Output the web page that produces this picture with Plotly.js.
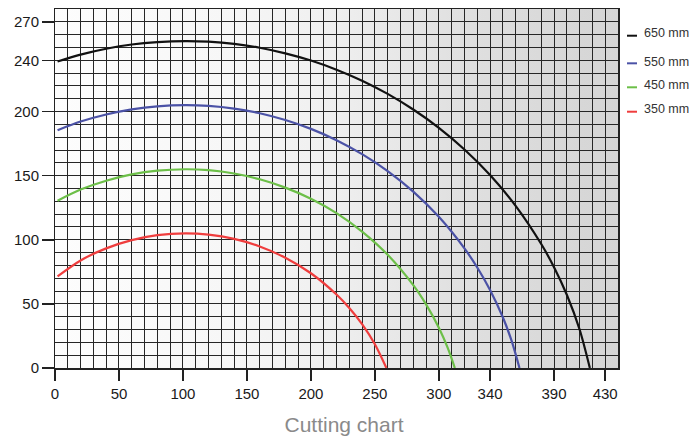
<!DOCTYPE html>
<html><head><meta charset="utf-8">
<script src="https://cdn.plot.ly/plotly-3.0.1.min.js"></script>
<style>html,body{margin:0;padding:0;background:#fff;}#chart{width:689px;height:438px;}</style>
</head><body><div id="chart"></div>
<script>
// ---- data ----
const seriesNames = ['650 mm', '550 mm', '450 mm', '350 mm'];

const x650 = [2, 20, 40, 60, 80, 102, 120, 140, 160, 180, 200, 220, 240, 260, 280, 300, 320, 340, 360, 380, 390, 400, 410, 418];
const y650 = [239, 244.4, 249, 252.3, 254.2, 255, 254.5, 252.8, 249.8, 245.4, 239.8, 232.7, 224.1, 213.8, 201.6, 187.3, 170.4, 150.5, 126.5, 96.7, 78.6, 57.1, 30, 0];

const x550 = [2, 20, 40, 60, 80, 102, 120, 140, 160, 180, 200, 220, 240, 260, 280, 300, 320, 330, 340, 350, 357, 363];
const y550 = [185.5, 192.2, 197.7, 201.7, 204.1, 205, 204.4, 202.3, 198.7, 193.4, 186.5, 177.7, 166.8, 153.6, 137.6, 117.9, 93.3, 78.4, 60.9, 39.6, 20.8, 0];

const x450 = [2, 20, 40, 60, 80, 102, 120, 140, 160, 180, 200, 220, 240, 260, 280, 290, 300, 307, 312.5];
const y450 = [130.5, 139.2, 146.1, 151, 153.9, 155, 154.3, 151.7, 147.2, 140.7, 132, 120.8, 106.4, 88.3, 64.6, 49.6, 31.4, 15.5, 0];

const x350 = [2, 20, 40, 60, 80, 102, 120, 140, 160, 180, 200, 220, 230, 240, 250, 259];
const y350 = [71.5, 83.9, 93.3, 99.7, 103.6, 105, 104, 100.7, 94.8, 86, 73.9, 57.3, 46.8, 34.2, 18.5, 0];

const xTickVals = [0, 50, 100, 150, 200, 250, 300, 340, 390, 430];
const yTickVals = [0, 50, 100, 150, 200, 240, 270];
const chartTitle = 'Cutting chart';

// ---- styles ----
const colors = ['#111111', '#4b52a6', '#6cbf48', '#ef3d3d'];
const seriesX = [x650, x550, x450, x350];
const seriesY = [y650, y550, y450, y350];
const FONT = 'Liberation Sans, Arial, Helvetica, sans-serif';

const traces = seriesNames.map((n, i) => ({
  type: 'scatter', mode: 'lines', name: n,
  x: seriesX[i], y: seriesY[i],
  line: {color: colors[i], width: 2.2, shape: 'spline', smoothing: 0.8},
  hoverinfo: 'skip', showlegend: false
}));
traces.push({type: 'scatter', x: [], y: [], xaxis: 'x2', yaxis: 'y2', showlegend: false, hoverinfo: 'skip'});

// background gradient
const svg = "<svg xmlns='http://www.w3.org/2000/svg' width='563' height='359' preserveAspectRatio='none' viewBox='0 0 563 359'>" +
  "<defs><linearGradient id='g' x1='0' y1='0' x2='1' y2='0'>" +
  "<stop offset='0' stop-color='#fdfdfd'/><stop offset='0.3' stop-color='#f7f7f7'/>" +
  "<stop offset='0.5' stop-color='#efefef'/><stop offset='0.72' stop-color='#e0e0e0'/>" +
  "<stop offset='0.93' stop-color='#d7d7d7'/><stop offset='1' stop-color='#d5d5d5'/>" +
  "</linearGradient></defs><rect x='0' y='0' width='563' height='359' fill='url(#g)'/></svg>";
const bgSrc = 'data:image/svg+xml;base64,' + btoa(svg);

// legend (manual, to match the short line symbols)
const legTextY = [0.932, 0.853, 0.788, 0.721];
const legLineY = [0.9256, 0.8487, 0.7819, 0.7139];
const annotations = seriesNames.map((n, i) => ({
  xref: 'paper', yref: 'paper', x: 1.0425, y: legTextY[i], xanchor: 'left', yanchor: 'middle',
  text: n, showarrow: false, font: {family: FONT, size: 12.5, color: '#333'}
}));
const shapes = seriesNames.map((n, i) => ({
  type: 'line', xref: 'paper', yref: 'paper', x0: 1.016, x1: 1.0338, y0: legLineY[i], y1: legLineY[i],
  line: {color: colors[i], width: 2}
}));

const gridAxis = (range) => ({
  range: range, tickmode: 'linear', tick0: 0, dtick: 10,
  showgrid: true, gridcolor: '#262626', gridwidth: 1,
  showticklabels: false, ticks: '', zeroline: false,
  showline: true, mirror: true, linecolor: '#222', linewidth: 1.5, fixedrange: true
});
const labelAxis = (range, vals) => ({
  range: range, tickmode: 'array', tickvals: vals, ticktext: vals.map(String),
  ticks: 'outside', ticklen: 12, tickwidth: 1.5, tickcolor: '#222',
  showgrid: false, zeroline: false, showline: false, fixedrange: true,
  tickfont: {family: FONT, size: 15, color: '#1a1a1a'}
});

const layout = {
  width: 689, height: 438,
  margin: {l: 55, r: 71, t: 9, b: 70, pad: 0},
  paper_bgcolor: '#ffffff', plot_bgcolor: 'rgba(0,0,0,0)',
  xaxis: gridAxis([0, 440]),
  yaxis: gridAxis([0, 280]),
  xaxis2: Object.assign(labelAxis([0, 440], xTickVals), {overlaying: 'x', anchor: 'y2', side: 'bottom'}),
  yaxis2: Object.assign(labelAxis([0, 280], yTickVals), {overlaying: 'y', anchor: 'x2', side: 'left'}),
  title: {text: chartTitle, font: {family: FONT, size: 21, color: '#8a8a8a'},
          x: 0.4993, xref: 'container', xanchor: 'center', y: 0.03, yref: 'container', yanchor: 'middle'},
  images: [{source: bgSrc, xref: 'paper', yref: 'paper', x: 0, y: 1, sizex: 1, sizey: 1,
            xanchor: 'left', yanchor: 'top', sizing: 'stretch', layer: 'below'}],
  annotations: annotations, shapes: shapes, showlegend: false
};

Plotly.newPlot('chart', traces, layout, {displayModeBar: false, staticPlot: true});
</script></body></html>
